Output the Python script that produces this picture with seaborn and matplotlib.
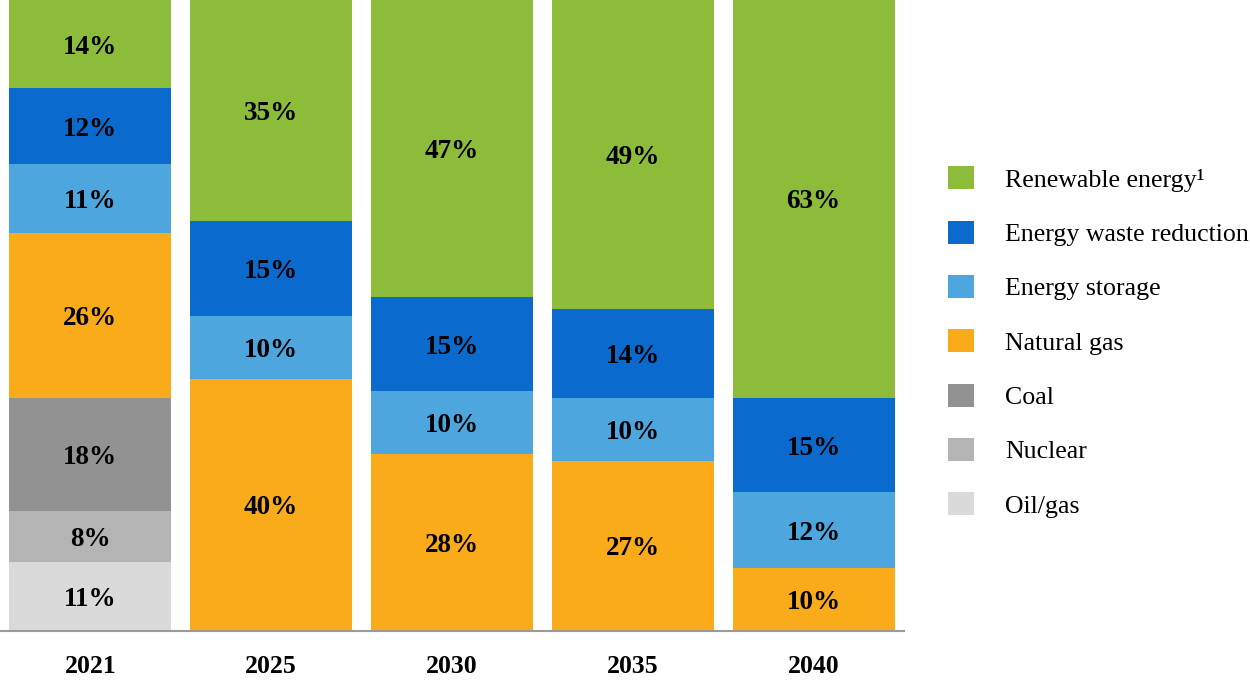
import numpy as np
import pandas as pd
import matplotlib
matplotlib.use('Agg')
import matplotlib.pyplot as plt
from matplotlib.patches import Patch
import seaborn as sns

# data (percent of capacity mix)
years = ['2021', '2025', '2030', '2035', '2040']
sources = ['Oil/gas', 'Nuclear', 'Coal', 'Natural gas', 'Energy storage',
           'Energy waste reduction', 'Renewable energy']
legend_labels = ['Renewable energy\u00b9', 'Energy waste reduction', 'Energy storage',
                 'Natural gas', 'Coal', 'Nuclear', 'Oil/gas']
oil_gas = [11, 0, 0, 0, 0]
nuclear = [8, 0, 0, 0, 0]
coal = [18, 0, 0, 0, 0]
natural_gas = [26, 40, 28, 27, 10]
storage = [11, 10, 10, 10, 12]
waste_reduction = [12, 15, 15, 14, 15]
renewable = [14, 35, 47, 49, 63]

colors = {
    'Oil/gas': '#DADADA',
    'Nuclear': '#B4B4B4',
    'Coal': '#929292',
    'Natural gas': '#F9AB1A',
    'Energy storage': '#4EA6DE',
    'Energy waste reduction': '#0A6ACD',
    'Renewable energy': '#8DBB3A',
}

sns.set_theme(style='white')
plt.rcParams['font.family'] = ['Liberation Serif', 'DejaVu Serif']
plt.rcParams['text.color'] = 'black'

values = np.array([oil_gas, nuclear, coal, natural_gas, storage, waste_reduction, renewable], dtype=float)
cum = np.cumsum(values, axis=0)

fig = plt.figure(figsize=(12.5, 7), dpi=100)
ax = fig.add_axes([0, 69 / 700, 904 / 1250, 631 / 700])

# draw cumulative totals from top layer down so each layer overlays the next
for i in range(len(sources) - 1, -1, -1):
    df = pd.DataFrame({'year': years, 'value': cum[i]})
    sns.barplot(data=df, x='year', y='value', color=colors[sources[i]],
                width=0.895, saturation=1, ax=ax, linewidth=0)

# segment labels
for i in range(len(sources)):
    for j in range(len(years)):
        v = values[i, j]
        if v <= 0:
            continue
        mid = cum[i, j] - v / 2 - 0.5
        ax.text(j, mid, f'{int(v)}%', ha='center', va='center',
                fontsize=19.5, fontweight='bold', color='black')

ax.set_xlim(-0.5, 4.5)
ax.set_ylim(0, 100)
ax.set_xlabel('')
ax.set_ylabel('')
ax.set_yticks([])
ax.tick_params(axis='x', length=0, pad=17)
for lbl in ax.get_xticklabels():
    lbl.set_fontsize(18.5)
    lbl.set_fontweight('bold')
    lbl.set_color('black')
for s in ['top', 'right', 'left']:
    ax.spines[s].set_visible(False)
ax.spines['bottom'].set_color('#9A9A9A')
ax.spines['bottom'].set_linewidth(1.5)

order = ['Renewable energy', 'Energy waste reduction', 'Energy storage',
         'Natural gas', 'Coal', 'Nuclear', 'Oil/gas']
handles = [Patch(facecolor=colors[k], edgecolor='none') for k in order]
leg = fig.legend(handles, legend_labels, loc='center left',
                 bbox_to_anchor=(948 / 1250, 1 - 342 / 700), frameon=False,
                 fontsize=18.6, handlelength=1.0, handleheight=1.0,
                 handletextpad=1.2, labelspacing=1.12, borderpad=0, borderaxespad=0)
for t in leg.get_texts():
    t.set_color('black')

fig.savefig('out.png', dpi=100)
